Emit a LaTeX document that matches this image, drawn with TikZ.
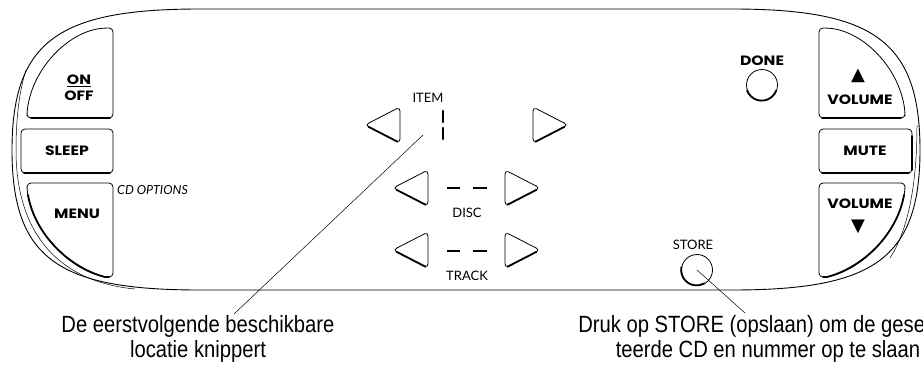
\documentclass[tikz,border=0pt]{standalone}
\usepackage{fontspec}
\setmainfont{Lato}
\newfontfamily\keyfont[FakeStretch=1.16]{Poppins}
\newfontfamily\notefont[FakeStretch=0.86]{Liberation Sans}
\newfontfamily\symfont{DejaVu Sans}
\usetikzlibrary{positioning}

% left / right pointing step keys
\newcommand{\lkey}[2]{%
  \draw[keyline] (#1-17.5,#2) -- (#1+17.5,#2-18) -- (#1+17.5,#2+18) -- cycle;
  \draw[keyshade] (#1-14,#2+1.8) -- (#1+15,#2+16.7);}
\newcommand{\rkey}[2]{%
  \draw[keyline] (#1+17.5,#2) -- (#1-17.5,#2-18) -- (#1-17.5,#2+18) -- cycle;
  \draw[keyshade] (#1-15,#2+16.7) -- (#1+14,#2+1.8);}

\begin{document}
\begin{tikzpicture}[
  x=1pt, y=-1pt,
  rim/.style={draw, line width=0.9pt},
  rimshade/.style={line width=0.5pt},
  keyline/.style={draw, line width=0.8pt, rounded corners=4pt},
  keyshade/.style={line width=1.8pt, line cap=round},
  keylbl/.style={font=\keyfont\bfseries\fontsize{13.5}{16}\selectfont, inner sep=0pt, align=center},
  keysym/.style={font=\symfont\fontsize{18}{18}\selectfont, inner sep=0pt},
  lbl/.style={font=\fontsize{13}{15}\selectfont, inner sep=0pt},
  seg/.style={line width=2.8pt},
  knob/.style={circle, draw, line width=0.8pt, minimum size=31pt, inner sep=0pt},
  note/.style={font=\notefont\fontsize{23.5}{25}\selectfont, align=center, inner sep=0pt},
  leader/.style={line width=0.5pt}
]
\useasboundingbox (0,0) rectangle (923,375);

% remote outline
\draw[rim] (200,9) -- (732,9) .. controls (872,9) and (920,40) .. (920,150)
  .. controls (920,260) and (872,290) .. (732,290) -- (200,290)
  .. controls (60,290) and (12,260) .. (12,150) .. controls (12,40) and (60,9) .. (200,9) -- cycle;
\draw[rimshade] (26,70) .. controls (18,95) and (16,125) .. (16,150) .. controls (16,235) and (60,282) .. (135,289);
\draw[rimshade] (917,125) .. controls (917,185) and (908,230) .. (890,258);

% left keys
\draw[keyline] (27,118) -- (113,118) -- (113,28) -- (105,28) .. controls (68,32) and (33,68) .. (27,112) -- cycle;
\draw[keyshade] (31,118) -- (110,118);
\node[keylbl] (onoff) at (79,88) {\underline{ON}\\OFF};

\draw[keyline] (21,129) rectangle (113,173);
\draw[keyshade] (24,173) -- (110,173);
\node[keylbl] (sleep) at (67,151) {SLEEP};

\draw[keyline] (27,183) -- (113,183) -- (113,277) -- (105,277) .. controls (70,268) and (35,235) .. (27,190) -- cycle;
\draw[keyshade] (109,277) -- (105,277) .. controls (70,268) and (35,235) .. (28,195);
\node[keylbl] (menu) at (77,214) {MENU};
\node[lbl, anchor=west, font=\itshape\fontsize{12.5}{14}\selectfont] (cdopt) at (117,190) {CD OPTIONS};

% item / disc / track
\node[lbl] (item) at (428,98) {ITEM};
\lkey{382.5}{125}
\draw[seg, line cap=round] (443,111) -- (443,122);
\draw[seg, line cap=round] (443,128) -- (443,139);
\rkey{550.5}{125}

\lkey{410.5}{188}
\draw[seg] (447,188) -- (460,188);
\draw[seg] (473,188) -- (487,188);
\rkey{522.5}{188}
\node[lbl] (disc) at (467,213) {DISC};

\lkey{410.5}{250}
\draw[seg] (447,251) -- (460,251);
\draw[seg] (473,251) -- (487,251);
\rkey{522.5}{250}
\node[lbl] (track) at (467,276) {TRACK};

% done / store
\node[keylbl] (donelbl) at (762,61) {DONE};
\node[knob] (done) at (762,85) {};
\draw[keyshade] (done.200) arc[start angle=160, end angle=20, radius=15.5];
\node[lbl] (storelbl) at (693,245) {STORE};
\node[knob] (store) at (697,270) {};
\draw[keyshade] (store.170) arc[start angle=190, end angle=60, radius=15.5];

% right keys
\draw[keyline] (905,118) -- (819,118) -- (819,28) -- (827,28) .. controls (864,32) and (899,68) .. (905,112) -- cycle;
\draw[keyshade] (822,118) -- (901,118);
\node[keysym] (volupsym) at (858,76) {▲};
\node[keylbl] (volup) at (860,100) {VOLUME};

\draw[keyline] (819,129) rectangle (912,173);
\draw[keyshade] (822,173) -- (909,173);
\draw[keyshade] (912,170) -- (912,136);
\node[keylbl] (mute) at (865,151) {MUTE};

\draw[keyline] (905,183) -- (819,183) -- (819,277) -- (827,277) .. controls (862,268) and (897,235) .. (905,190) -- cycle;
\draw[keyshade] (823,277) -- (827,277) .. controls (862,268) and (897,235) .. (904,195);
\node[keylbl] (voldn) at (860,204) {VOLUME};
\node[keysym] (voldnsym) at (858,227) {▼};

% notes
\node[note] (notea) at (198,339) {De eerstvolgende beschikbare\\locatie knippert};
\node[note] (noteb) at (768,339) {Druk op STORE (opslaan) om de geselec-\\teerde CD en nummer op te slaan};
\coordinate (itempt) at (423,135);
\coordinate (itemend) at (234,314);
\coordinate (storeend) at (745,313);
\draw[leader] (itempt) -- (itemend);
\draw[leader] (store.center) -- (storeend);
\end{tikzpicture}
\end{document}
